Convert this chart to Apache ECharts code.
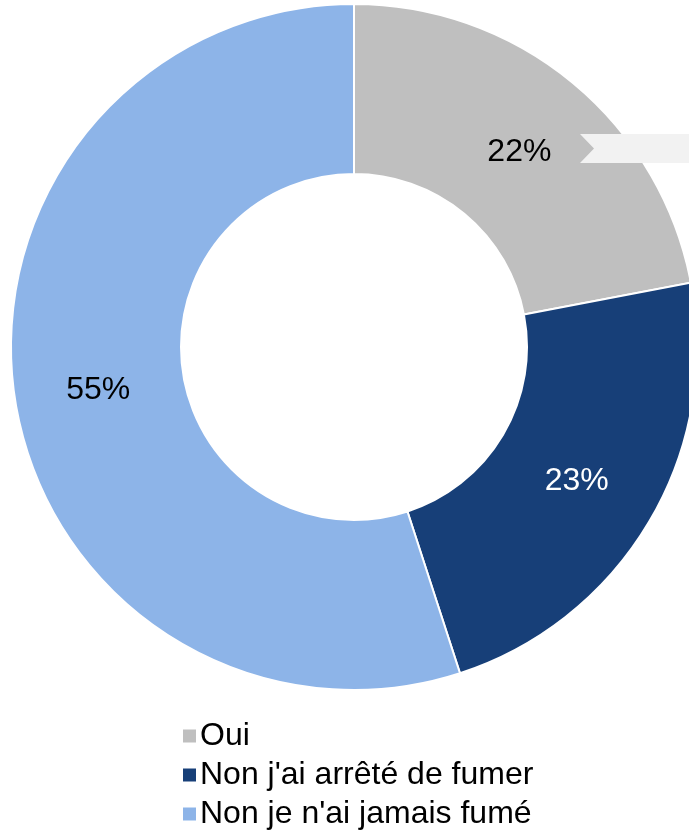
<!DOCTYPE html>
<html>
<head>
<meta charset="utf-8">
<script src="https://cdn.jsdelivr.net/npm/echarts@6/dist/echarts.min.js"></script>
<style>
  html, body { margin: 0; padding: 0; background: #fff; }
  #chart { width: 689px; height: 830px; }
</style>
</head>
<body>
<div id="chart"></div>
<script>
// données
const categories = ["Oui", "Non j'ai arrêté de fumer", "Non je n'ai jamais fumé"];
const values = [22, 23, 55];
const colors = ["#bfbfbf", "#173f78", "#8db4e8"];
const labelColors = ["#000", "#fff", "#000"];
const labelOffsets = [[-1, 6], [-2, 1], [2, 2]];

const chart = echarts.init(document.getElementById("chart"));
chart.setOption({
  animation: false,
  textStyle: { fontFamily: "Liberation Sans, Arial, sans-serif" },
  legend: {
    orient: "vertical",
    left: 176,
    top: 715,
    height: 130,
    itemWidth: 15,
    itemHeight: 15,
    itemGap: 7,
    icon: "rect",
    data: categories,
    textStyle: { fontSize: 32, color: "#000", padding: [0, 0, 0, -2] }
  },
  series: [
    {
      type: "pie",
      center: [354, 347],
      radius: [173, 343],
      startAngle: 90,
      clockwise: true,
      label: {
        show: true,
        position: "inside",
        fontSize: 32,
        formatter: "{d}%"
      },
      labelLine: { show: false },
      itemStyle: { borderColor: "#fff", borderWidth: 2 },
      emphasis: { disabled: true },
      data: categories.map((name, i) => ({
        name: name,
        value: values[i],
        itemStyle: { color: colors[i] },
        label: { color: labelColors[i], offset: labelOffsets[i] }
      }))
    }
  ],
  // bandeau décoratif à droite
  graphic: [
    {
      type: "polygon",
      z: 100,
      shape: { points: [[580, 134], [689, 134], [689, 163], [580, 163], [594, 148.5]] },
      style: { fill: "#f2f2f2" }
    }
  ]
});
</script>
</body>
</html>
